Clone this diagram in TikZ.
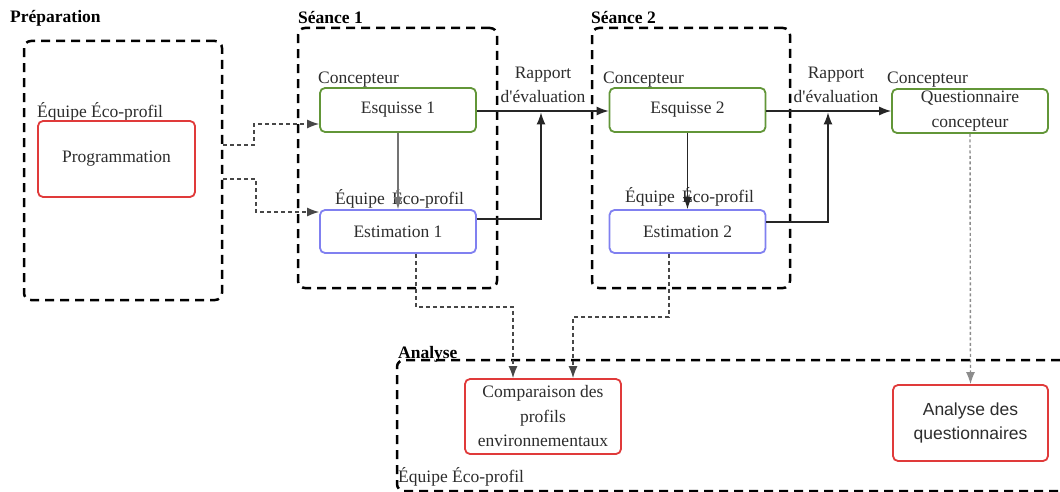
\documentclass[tikz,border=0pt]{standalone}
\usepackage{fontspec}
\setmainfont{Liberation Serif}
\newfontfamily\sansf{Liberation Sans}
\usetikzlibrary{arrows.meta}
\definecolor{bgreen}{RGB}{98,150,56}
\definecolor{bred}{RGB}{224,58,58}
\definecolor{bblue}{RGB}{128,128,240}
\definecolor{txt}{RGB}{45,45,45}
\begin{document}
\begin{tikzpicture}[x=1pt,y=-1pt,
  every node/.style={font=\fontsize{17.5}{24.5}\selectfont, text=txt},
  grp/.style={draw=black, line width=2.5pt, dash pattern=on 9pt off 6pt, rounded corners=7pt, inner sep=0pt},
  box/.style={draw, line width=1.8pt, rounded corners=5pt, fill=white, inner sep=0pt, align=center},
  gbox/.style={box, draw=bgreen, minimum width=156pt, minimum height=44pt},
  bbox/.style={box, draw=bblue, minimum width=156pt, minimum height=43pt},
  rbox/.style={box, draw=bred},
  lbl/.style={inner sep=0pt, anchor=west},
  ttl/.style={inner sep=0pt, anchor=west, font=\fontsize{17.5}{20}\selectfont\bfseries, text=black},
  arr/.style={-{Latex[length=12pt,width=9pt]}, line width=1.2pt, draw=black!85},
  garr/.style={arr, draw=black!55},
  darr/.style={arr, dash pattern=on 4pt off 3pt, draw=black!72},
  dgarr/.style={arr, dash pattern=on 3pt off 2.5pt, draw=black!45, line width=1.4pt},
]
\useasboundingbox (0,0) rectangle (1060,492);
\clip (0,0) rectangle (1060,492);
\fill[white] (0,0) rectangle (1060,492);

% group boxes
\node[grp, minimum width=198pt, minimum height=259pt] (prep) at (123,170.5) {};
\node[grp, minimum width=199pt, minimum height=260pt] (s1) at (397.5,158) {};
\node[grp, minimum width=198pt, minimum height=260pt] (s2) at (691,158) {};
\node[grp, minimum width=700pt, minimum height=131pt] (ana) at (747,425.5) {};

% titles
\node[ttl] (tprep) at (10,18) {Préparation};
\node[ttl] (ts1) at (298,18) {Séance 1};
\node[ttl] (ts2) at (591,18) {Séance 2};
\node[ttl] (tana) at (398,354) {Analyse};

% role labels
\node[lbl] (lprep) at (37,112) {Équipe Éco-profil};
\node[lbl] (lc1) at (318,80) {Concepteur};
\node[lbl] (le1) at (335,199) {Équipe \,Éco-profil};
\node[lbl] (lc2) at (603,80) {Concepteur};
\node[lbl] (le2) at (625,197) {Équipe \,Éco-profil};
\node[lbl] (lc3) at (887,80) {Concepteur};
\node[lbl] (lana) at (398,477) {Équipe Éco-profil};

% boxes
\node[rbox, minimum width=157pt, minimum height=76pt] (prog) at (116.5,159) {Programmation};
\node[gbox] (esq1) at (398,110) {Esquisse 1};
\node[bbox] (est1) at (398,231.5) {Estimation 1};
\node[gbox] (esq2) at (687.5,110) {Esquisse 2};
\node[bbox] (est2) at (687.5,231.5) {Estimation 2};
\node[gbox, minimum width=156pt, minimum height=44pt] (quest) at (970,111) {Questionnaire\\concepteur};
\node[rbox, minimum width=156pt, minimum height=75pt] (comp) at (543,416.5) {Comparaison des\\profils\\environnementaux};
\node[rbox, minimum width=155pt, minimum height=76pt, font=\sansf\fontsize{17.5}{24.5}\selectfont] (aq) at (970.5,423) {Analyse des\\questionnaires};

% report labels
\node[inner sep=0pt, align=center] (r1) at (543,85) {Rapport\\d\textquotesingle évaluation};
\node[inner sep=0pt, align=center] (r2) at (836,85) {Rapport\\d\textquotesingle évaluation};

% junction points
\coordinate (j1) at (541,112.5);
\coordinate (j2) at (828,112.5);

% connectors
\draw[darr] (prep.east |- 0,145) -- (254,145) |- (esq1.west |- 0,124);
\draw[darr] (prep.east |- 0,179) -- (256,179) |- (est1.west |- 0,212);
\draw[garr] (esq1.south) -- (est1.north);
\draw[arr] (esq2.south) -- (est2.north);
\draw[arr] (esq1.east |- 0,111) -- (esq2.west |- 0,111);
\draw[arr] (esq2.east |- 0,111) -- (quest.west |- 0,111);
\draw[arr] (est1.east |- 0,219) -| (j1);
\draw[arr] (est2.east |- 0,222) -| (j2);
\draw[darr] (est1.south -| 416,0) |- (513,307) -- (comp.north -| 513,0);
\draw[darr] (est2.south -| 669,0) |- (573,317) -- (comp.north -| 573,0);
\draw[dgarr] (quest.south) -- (aq.north);
\end{tikzpicture}
\end{document}
